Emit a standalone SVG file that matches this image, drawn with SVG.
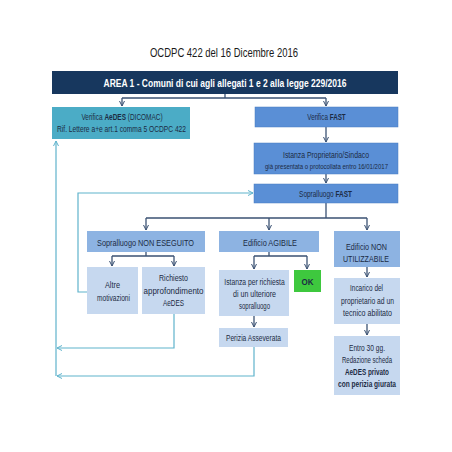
<svg xmlns="http://www.w3.org/2000/svg" width="452" height="452" viewBox="0 0 452 452">
<defs>
<marker id="ad" markerWidth="6" markerHeight="6" refX="5" refY="3" orient="auto" markerUnits="userSpaceOnUse"><path d="M0,0.5 L5,3 L0,5.5" fill="none" stroke="#3b5273" stroke-width="1"/></marker>
<marker id="at" markerWidth="6" markerHeight="6" refX="5" refY="3" orient="auto" markerUnits="userSpaceOnUse"><path d="M0,0.5 L5,3 L0,5.5" fill="none" stroke="#5fb3cc" stroke-width="1"/></marker>
<style>
text{font-family:"Liberation Sans",Arial,sans-serif;text-anchor:middle}
.t{font-size:9px;fill:#1c2b44}
.s{font-size:6.5px;fill:#1c2b44}
.b{font-size:9.5px;fill:#1c2b44}
.bd{font-weight:bold}
.dk{fill:none;stroke:#3b5273;stroke-width:1.3}
.tl{fill:none;stroke:#5fb3cc;stroke-width:1.2}
.mid{fill:#5a8fd6;stroke:#4a7cc0;stroke-width:0.5}
.med{fill:#8db3e2}
.lt{fill:#c6d8ef}
</style>
</defs>
<rect width="452" height="452" fill="#ffffff"/>
<text x="224" y="57" style="font-size:13.5px;fill:#1a1a1a" textLength="148" lengthAdjust="spacingAndGlyphs">OCDPC 422 del 16 Dicembre 2016</text>

<g id="conn">
<path class="dk" d="M225,94 V98 M122,98 H326" />
<path class="dk" d="M122,98 V106" marker-end="url(#ad)"/>
<path class="dk" d="M326,98 V106" marker-end="url(#ad)"/>
<path class="dk" d="M326,127 V142" marker-end="url(#ad)"/>
<path class="dk" d="M326,174 V183" marker-end="url(#ad)"/>
<path class="dk" d="M326,203 V218 M146,218 H367"/>
<path class="dk" d="M146,218 V230" marker-end="url(#ad)"/>
<path class="dk" d="M269,218 V230" marker-end="url(#ad)"/>
<path class="dk" d="M367,218 V230" marker-end="url(#ad)"/>
<path class="dk" d="M146,252 V256 M112,256 H174"/>
<path class="dk" d="M112,256 V266" marker-end="url(#ad)"/>
<path class="dk" d="M174,256 V266" marker-end="url(#ad)"/>
<path class="dk" d="M269,252 V256 M254,256 H307"/>
<path class="dk" d="M254,256 V269" marker-end="url(#ad)"/>
<path class="dk" d="M307,256 V269" marker-end="url(#ad)"/>
<path class="dk" d="M254,316 V327" marker-end="url(#ad)"/>
<path class="dk" d="M367,267 V277" marker-end="url(#ad)"/>
<path class="dk" d="M367,324 V335" marker-end="url(#ad)"/>
<path class="tl" d="M87,292 H78 V193 H253" marker-end="url(#at)"/>
<path class="tl" d="M56,376 V141" marker-end="url(#at)"/>
<path class="tl" d="M174,314 V348 H57" marker-end="url(#at)"/>
<path class="tl" d="M254,347 V376 H57" marker-end="url(#at)"/>
</g>

<g id="area1">
<rect x="52" y="71" width="346" height="23" fill="#17375e"/>
<text x="225" y="86.5" style="font-size:11.5px;font-weight:bold;fill:#ffffff" textLength="243" lengthAdjust="spacingAndGlyphs">AREA 1 - Comuni di cui  agli allegati 1 e 2 alla legge 229/2016</text>
</g>
<g id="aedes">
<rect x="52" y="107" width="138" height="32" fill="#4bacc6"/>
<text transform="translate(122,120) scale(0.72,1)" class="t">Verifica <tspan class="bd">AeDES</tspan> (DICOMAC)</text>
<text x="121.5" y="132" class="t" textLength="129" lengthAdjust="spacingAndGlyphs">Rif. Lettere a+e art.1 comma 5 OCDPC 422</text>
</g>
<g id="fast">
<rect x="255" y="107" width="143" height="20" class="mid"/>
<text transform="translate(326.5,120) scale(0.7,1)" class="t">Verifica <tspan class="bd">FAST</tspan></text>
</g>
<g id="istanza">
<rect x="254" y="143" width="144" height="31" class="mid"/>
<text x="326" y="158" class="t" textLength="86" lengthAdjust="spacingAndGlyphs">Istanza Proprietario/Sindaco</text>
<text x="326.5" y="168.5" class="s" textLength="123" lengthAdjust="spacingAndGlyphs">già presentata o protocollata entro 16/01/2017</text>
</g>
<g id="sopfast">
<rect x="254" y="184" width="144" height="19" class="mid"/>
<text transform="translate(325.5,197) scale(0.72,1)" class="t">Sopralluogo <tspan class="bd">FAST</tspan></text>
</g>
<g id="nonesequito">
<rect x="87" y="231" width="118" height="21" class="med"/>
<text x="145.5" y="246" class="b" textLength="97" lengthAdjust="spacingAndGlyphs">Sopralluogo NON ESEGUITO</text>
</g>
<g id="agibile">
<rect x="219" y="231" width="100" height="21" class="med"/>
<text x="270" y="246" class="b" textLength="54" lengthAdjust="spacingAndGlyphs">Edificio AGIBILE</text>
</g>
<g id="nonutil">
<rect x="334" y="231" width="66" height="36" class="med"/>
<text x="366.5" y="250" class="b" textLength="41" lengthAdjust="spacingAndGlyphs">Edificio NON</text>
<text x="366" y="261.5" class="b" textLength="46" lengthAdjust="spacingAndGlyphs">UTILIZZABILE</text>
</g>
<g id="altre">
<rect x="87" y="267" width="51" height="47" class="lt"/>
<text x="112.5" y="288" class="t" textLength="15" lengthAdjust="spacingAndGlyphs">Altre</text>
<text x="113.5" y="301" class="t" textLength="33" lengthAdjust="spacingAndGlyphs">motivazioni</text>
</g>
<g id="richiesto">
<rect x="142" y="267" width="63" height="47" class="lt"/>
<text x="173.5" y="281" class="t" textLength="29" lengthAdjust="spacingAndGlyphs">Richiesto</text>
<text x="173.5" y="294" class="t" textLength="60" lengthAdjust="spacingAndGlyphs">approfondimento</text>
<text x="173.5" y="306" class="t" textLength="21" lengthAdjust="spacingAndGlyphs">AeDES</text>
</g>
<g id="istanza2">
<rect x="219" y="270" width="70" height="46" class="lt"/>
<text transform="translate(254.5,285) scale(0.75,1)" class="t">Istanza per richiesta</text>
<text x="254.5" y="297" class="t" textLength="43" lengthAdjust="spacingAndGlyphs">di un ulteriore</text>
<text x="254.5" y="309" class="t" textLength="31" lengthAdjust="spacingAndGlyphs">sopralluogo</text>
</g>
<g id="ok">
<rect x="294" y="270" width="27" height="22" fill="#3ec83e"/>
<text x="307.5" y="285" style="font-size:9.5px;font-weight:bold;fill:#1c2b44" textLength="12" lengthAdjust="spacingAndGlyphs">OK</text>
</g>
<g id="perizia">
<rect x="219" y="328" width="69" height="19" class="lt"/>
<text x="253.5" y="341" class="t" textLength="55" lengthAdjust="spacingAndGlyphs">Perizia Asseverata</text>
</g>
<g id="incarico">
<rect x="334" y="278" width="66" height="46" class="lt"/>
<text x="366.5" y="291" class="t" textLength="33" lengthAdjust="spacingAndGlyphs">Incarico del</text>
<text x="367.5" y="304" class="t" textLength="53" lengthAdjust="spacingAndGlyphs">proprietario ad un</text>
<text x="367.5" y="316" class="t" textLength="49" lengthAdjust="spacingAndGlyphs">tecnico abilitato</text>
</g>
<g id="entro">
<rect x="334" y="336" width="66" height="59" class="lt"/>
<text x="367" y="351" class="t" textLength="36" lengthAdjust="spacingAndGlyphs">Entro 30 gg.</text>
<text x="367" y="363" class="t" textLength="50" lengthAdjust="spacingAndGlyphs">Redazione scheda</text>
<text x="367" y="375" class="t bd" textLength="44" lengthAdjust="spacingAndGlyphs">AeDES privato</text>
<text x="367" y="387" class="t bd" textLength="58" lengthAdjust="spacingAndGlyphs">con perizia giurata</text>
</g>
</svg>
